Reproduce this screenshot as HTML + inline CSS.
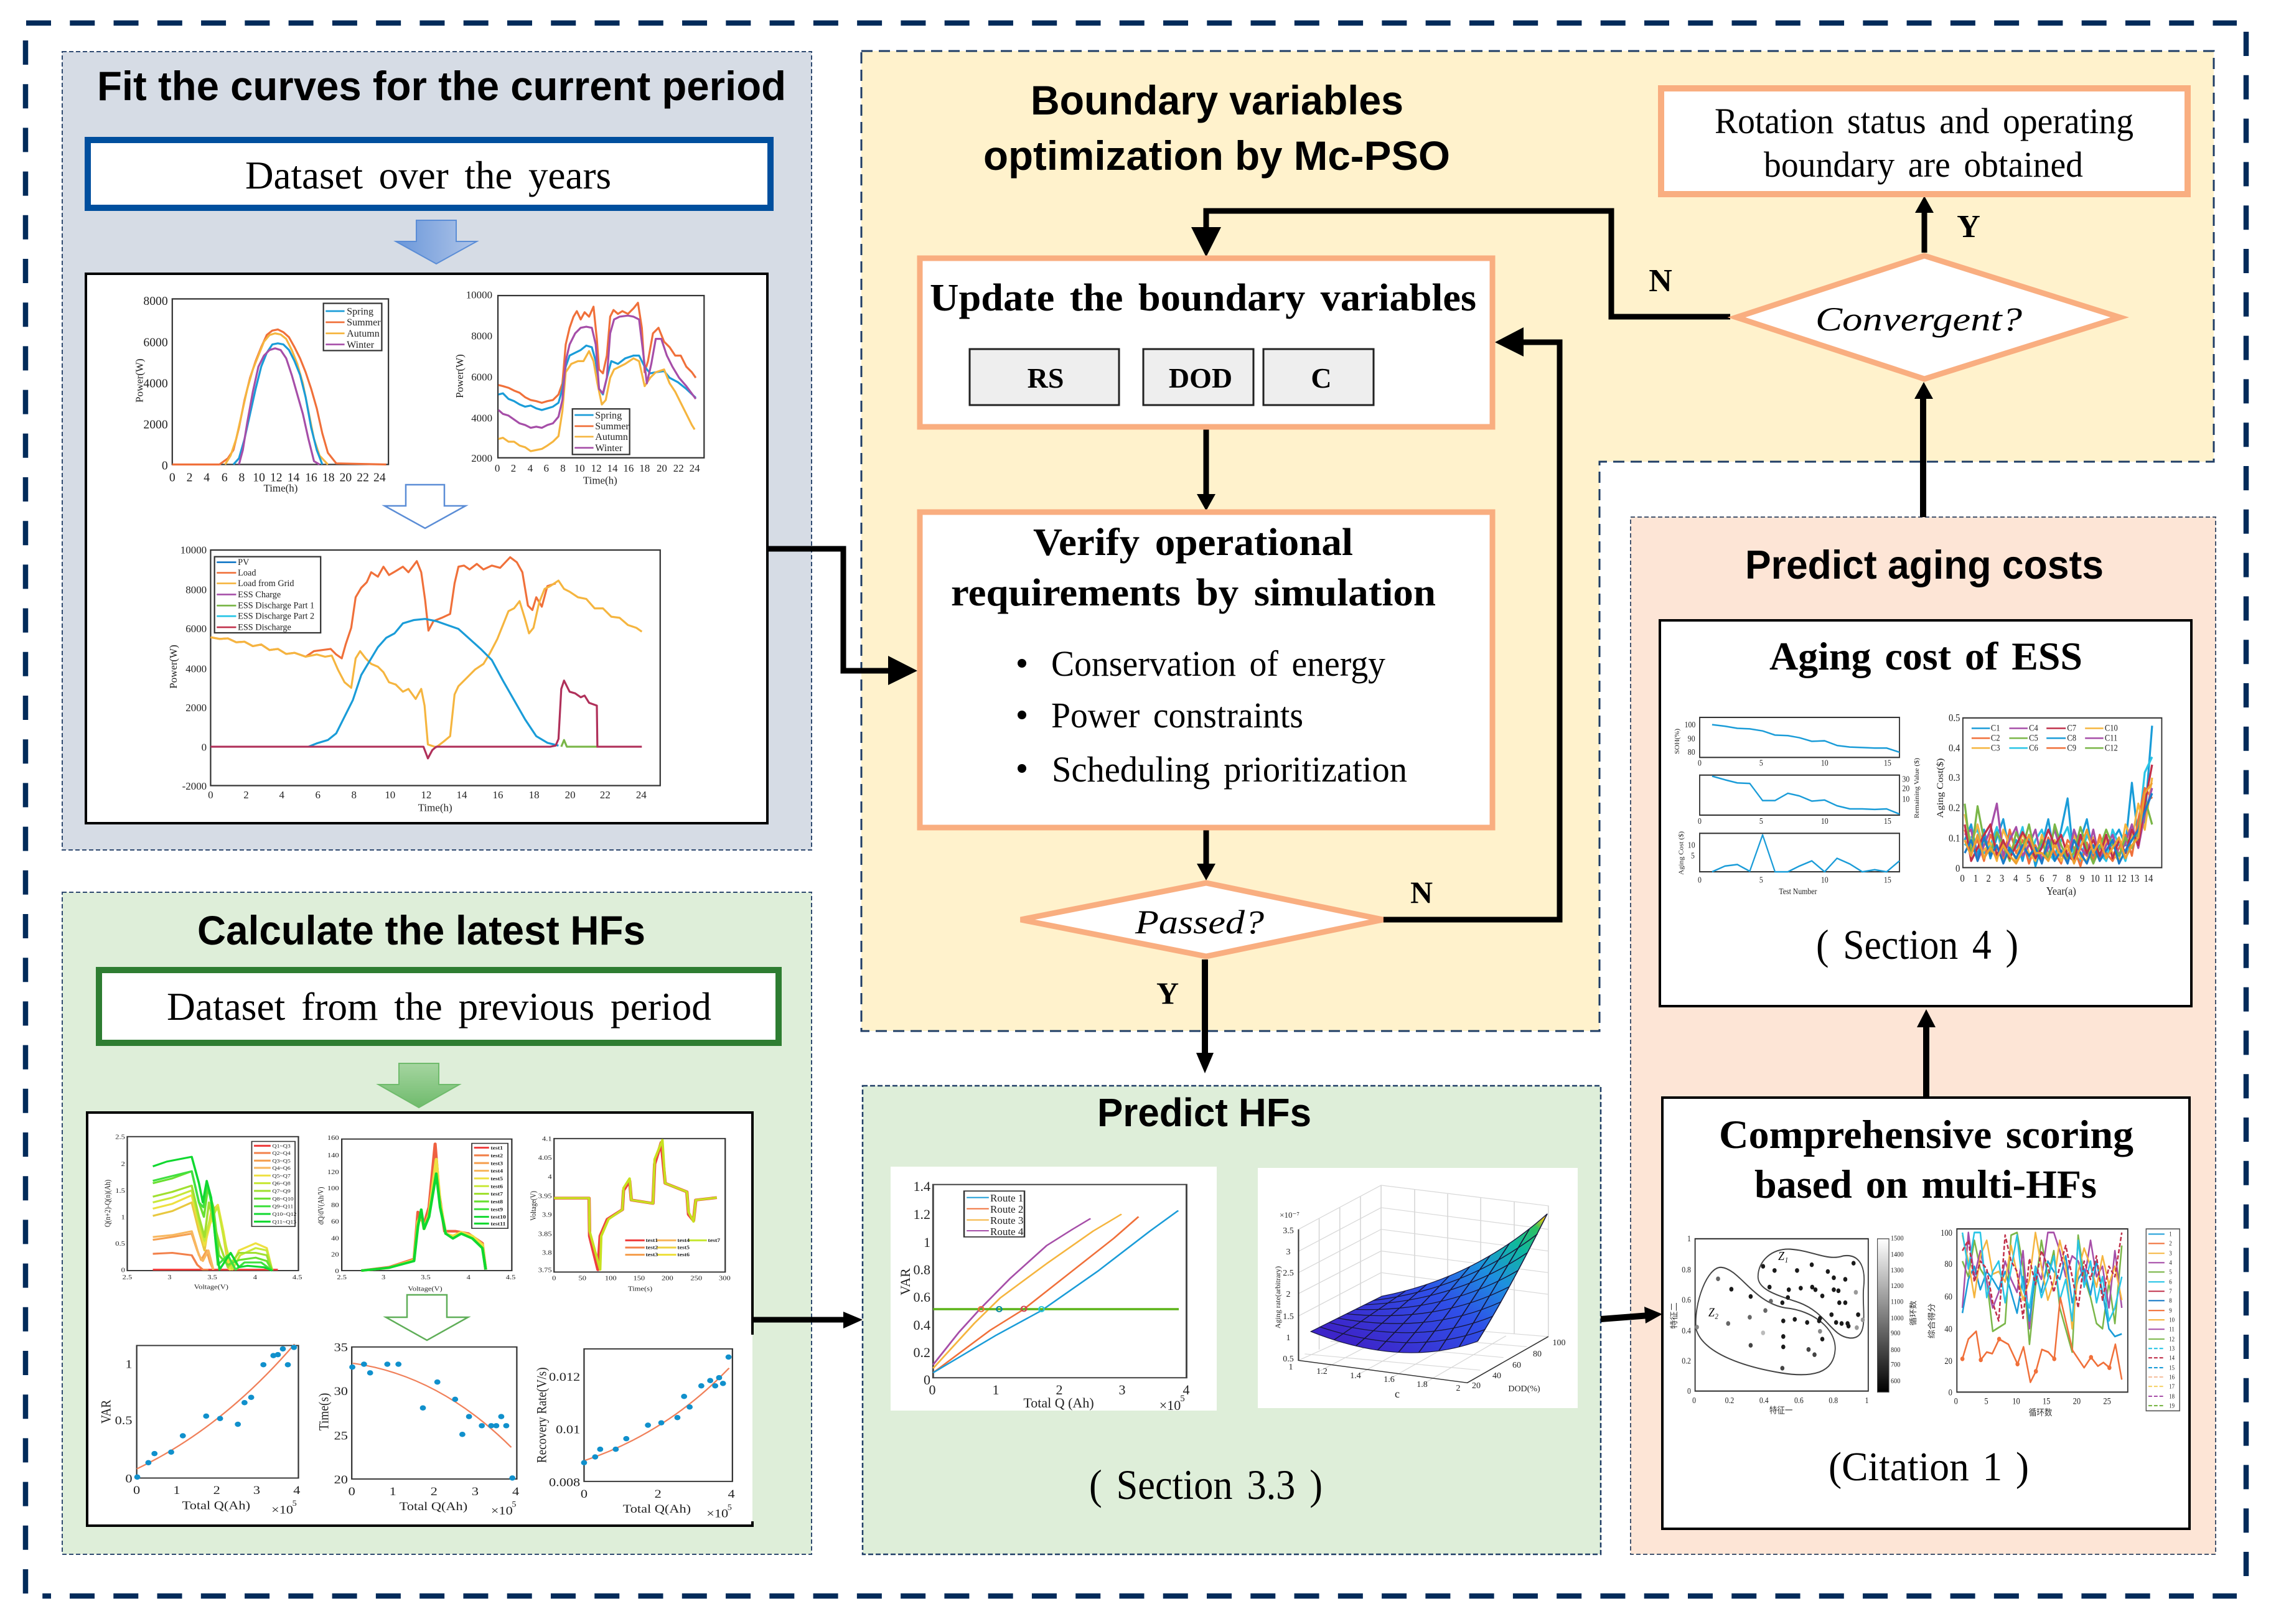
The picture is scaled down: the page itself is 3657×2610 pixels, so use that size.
<!DOCTYPE html>
<html lang="en">
<head>
<meta charset="utf-8">
<title>Boundary variables optimization flow</title>
<style>
html,body{margin:0;padding:0;background:#fff}
svg{display:block}
.h{font-family:"Liberation Sans",sans-serif;font-weight:700;fill:#000}
.s{font-family:"Liberation Serif",serif;fill:#000}
.b{font-family:"Liberation Serif",serif;font-weight:700;fill:#000}
.i{font-family:"Liberation Serif",serif;font-style:italic;fill:#000}
.t{font-family:"Liberation Serif",serif;fill:#222}
.c{font-family:"Liberation Sans","Noto Sans CJK SC",sans-serif;fill:#333}
polyline,path.l{fill:none;stroke-linejoin:round}
.ax{fill:none;stroke:#333;stroke-width:2.5}
.ln{stroke-width:3.6}
.conn{fill:none;stroke:#000;stroke-width:9}
</style>
</head>
<body>
<svg xmlns="http://www.w3.org/2000/svg" width="3657" height="2610" viewBox="0 0 3657 2610">
<defs>
<linearGradient id="ba" x1="0" x2="1" y1="0" y2="0"><stop offset="0" stop-color="#6a97da"/><stop offset="1" stop-color="#b0c5e8"/></linearGradient>
<linearGradient id="ga" x1="0" x2="0" y1="0" y2="1"><stop offset="0" stop-color="#a5d5a0"/><stop offset="1" stop-color="#6fbb6c"/></linearGradient>
<linearGradient id="cb" x1="0" x2="0" y1="0" y2="1"><stop offset="0" stop-color="#fff"/><stop offset="1" stop-color="#000"/></linearGradient>
<linearGradient id="sf" gradientUnits="userSpaceOnUse" x1="1000" y1="800" x2="1370" y2="432"><stop offset="0" stop-color="#3d25c9"/><stop offset=".4" stop-color="#2f4fe8"/><stop offset=".62" stop-color="#1e8fe0"/><stop offset=".8" stop-color="#10b8a0"/><stop offset=".92" stop-color="#30c060"/><stop offset=".97" stop-color="#e8c810"/></linearGradient>
</defs>
<rect width="3657" height="2610" fill="#fff"/>

<!-- outer dashed frame -->
<g fill="none" stroke="#022b5a" stroke-width="8.5">
<path d="M42 37H3594" stroke-dasharray="40 30.27"/>
<path d="M41 65V2565H82" stroke-dasharray="39 31.2"/>
<path d="M112 2565H3594" stroke-dasharray="40 30.27"/>
<path d="M3609 51V2549" stroke-dasharray="39 30.8"/>
</g>

<!-- panels -->
<rect x="100" y="83" width="1204" height="1283" fill="#d6dce5" stroke="#2f4a70" stroke-width="2" stroke-dasharray="7 4"/>
<rect x="100" y="1434" width="1204" height="1064" fill="#deeed9" stroke="#2f4a70" stroke-width="2" stroke-dasharray="7 4"/>
<path d="M1384 82H3557V742H2570V1657H1384Z" fill="#fff2cc" stroke="#1f3d66" stroke-width="3" stroke-dasharray="18 10"/>
<rect x="1386" y="1745" width="1186" height="753" fill="#deeed9" stroke="#1f3d66" stroke-width="2.5" stroke-dasharray="8 4"/>
<rect x="2620" y="831" width="940" height="1667" fill="#fde5d6" stroke="#45556e" stroke-width="2" stroke-dasharray="7 4"/>

<!-- panel A -->
<text class="h" x="156" y="161" font-size="66" textLength="1107" lengthAdjust="spacingAndGlyphs">Fit the curves for the current period</text>
<rect x="141" y="225" width="1097" height="109" fill="#fff" stroke="#004f9e" stroke-width="10"/>
<text class="s" x="394" y="303" font-size="64" word-spacing="10" textLength="588" lengthAdjust="spacingAndGlyphs">Dataset over the years</text>
<path d="M669 354H733V388H766L701 424L636 388H669Z" fill="url(#ba)" stroke="#5b8dd6" stroke-width="2"/>
<rect x="138" y="440" width="1095" height="883" fill="#fff" stroke="#000" stroke-width="4"/>
<path d="M652 779H714V813H748L683 849L618 813H652Z" fill="#fff" stroke="#5b8dd6" stroke-width="2.5"/>

<g transform="scale(.8929)">
<!-- chart 1 -->
<rect x="310" y="538" width="389" height="298" class="ax"/>
<g class="t" font-size="22" text-anchor="end"><text x="302" y="549">8000</text><text x="302" y="623">6000</text><text x="302" y="697">4000</text><text x="302" y="771">2000</text><text x="302" y="845">0</text></g>
<g class="t" font-size="22" text-anchor="middle"><text x="310" y="866">0</text><text x="341" y="866">2</text><text x="372" y="866">4</text><text x="404" y="866">6</text><text x="435" y="866">8</text><text x="466" y="866">10</text><text x="497" y="866">12</text><text x="528" y="866">14</text><text x="560" y="866">16</text><text x="591" y="866">18</text><text x="622" y="866">20</text><text x="653" y="866">22</text><text x="683" y="866">24</text><text x="505" y="885" font-size="19">Time(h)</text><text transform="translate(257,685) rotate(-90)" font-size="19">Power(W)</text></g>
<polyline class="ln" stroke="#f0703a" points="310,836 395,836 410,825 420,810 430,770 440,720 450,680 460,650 470,625 480,603 490,595 500,593 510,598 520,607 530,625 540,645 550,670 560,700 570,735 580,780 590,815 605,834 695,836"/>
<polyline class="ln" stroke="#f5b53f" points="405,836 415,820 425,790 435,745 445,700 455,665 465,640 475,615 485,603 495,600 505,602 515,610 525,630 535,655 545,690 555,740 565,790 575,820 590,836"/>
<polyline class="ln" stroke="#1a9cd8" points="420,836 430,825 440,790 450,745 460,700 470,660 480,635 490,620 500,618 510,620 520,630 530,650 540,675 550,715 560,770 570,810 580,836"/>
<polyline class="ln" stroke="#a64ea8" points="430,836 437,810 445,760 455,705 465,660 475,640 485,630 495,627 505,630 515,645 525,675 535,710 545,745 555,790 565,830 575,836"/>
<rect x="582" y="546" width="105" height="85" fill="#fff" stroke="#333" stroke-width="2.5"/>
<g stroke-width="3"><path d="M586 560H620" stroke="#1a9cd8"/><path d="M586 580H620" stroke="#f0703a"/><path d="M586 600H620" stroke="#f5b53f"/><path d="M586 620H620" stroke="#a64ea8"/></g>
<g class="t" font-size="18"><text x="624" y="566">Spring</text><text x="624" y="586">Summer</text><text x="624" y="606">Autumn</text><text x="624" y="626">Winter</text></g>

<!-- chart 2 -->
<rect x="896" y="532" width="371" height="292" class="ax"/>
<g class="t" font-size="19" text-anchor="end"><text x="886" y="537">10000</text><text x="886" y="611">8000</text><text x="886" y="685">6000</text><text x="886" y="759">4000</text><text x="886" y="831">2000</text></g>
<g class="t" font-size="19" text-anchor="middle"><text x="895" y="849">0</text><text x="924" y="849">2</text><text x="954" y="849">4</text><text x="983" y="849">6</text><text x="1013" y="849">8</text><text x="1043" y="849">10</text><text x="1073" y="849">12</text><text x="1102" y="849">14</text><text x="1131" y="849">16</text><text x="1160" y="849">18</text><text x="1191" y="849">20</text><text x="1221" y="849">22</text><text x="1250" y="849">24</text><text x="1080" y="871">Time(h)</text><text transform="translate(833,677) rotate(-90)">Power(W)</text></g>
<polyline class="ln" stroke="#f0703a" points="897,693 905,695 915,698 925,703 935,707 945,715 955,720 965,722 975,725 985,722 995,720 1005,710 1012,690 1018,620 1025,590 1032,570 1038,560 1045,575 1052,562 1060,570 1068,552 1074,610 1078,665 1085,672 1092,640 1098,570 1104,558 1112,565 1120,560 1130,565 1140,555 1148,545 1155,590 1160,670 1166,650 1175,600 1185,590 1195,615 1205,625 1215,640 1225,640 1235,660 1245,670 1252,680"/>
<polyline class="ln" stroke="#1a9cd8" points="897,710 905,708 915,718 925,722 935,728 945,732 955,730 965,735 975,738 985,735 995,732 1005,725 1012,700 1018,660 1025,640 1035,635 1045,630 1055,622 1065,625 1072,650 1078,700 1085,710 1092,680 1100,650 1112,655 1125,645 1140,640 1150,640 1160,660 1170,672 1180,670 1195,668 1205,680 1220,688 1235,700 1252,716"/>
<polyline class="ln" stroke="#f5b53f" points="897,790 905,788 915,795 925,795 935,802 945,805 955,812 965,810 975,808 985,802 995,795 1005,785 1012,740 1018,670 1028,655 1040,650 1050,650 1060,632 1068,650 1075,690 1083,728 1090,720 1098,680 1105,665 1115,660 1125,655 1140,645 1150,650 1160,695 1170,680 1180,670 1195,665 1205,690 1215,705 1225,725 1235,745 1245,765 1250,773"/>
<polyline class="ln" stroke="#a64ea8" points="897,738 905,745 915,748 925,755 935,762 945,765 955,770 965,768 975,770 985,765 995,762 1005,750 1012,720 1018,650 1025,620 1035,600 1045,590 1055,588 1065,590 1072,620 1078,700 1085,708 1092,680 1098,600 1105,575 1115,570 1130,568 1140,570 1150,575 1158,640 1164,690 1172,655 1180,610 1190,610 1200,640 1210,660 1222,680 1235,695 1252,718"/>
<rect x="1030" y="736" width="103" height="82" fill="#fff" stroke="#333" stroke-width="2.5"/>
<g stroke-width="3"><path d="M1034 747H1068" stroke="#1a9cd8"/><path d="M1034 767H1068" stroke="#f0703a"/><path d="M1034 786H1068" stroke="#f5b53f"/><path d="M1034 806H1068" stroke="#a64ea8"/></g>
<g class="t" font-size="18"><text x="1071" y="753">Spring</text><text x="1071" y="773">Summer</text><text x="1071" y="792">Autumn</text><text x="1071" y="812">Winter</text></g>

<!-- chart 3 -->
<rect x="379" y="990" width="809" height="424" class="ax"/>
<g class="t" font-size="19" text-anchor="end"><text x="372" y="996">10000</text><text x="372" y="1068">8000</text><text x="372" y="1138">6000</text><text x="372" y="1210">4000</text><text x="372" y="1280">2000</text><text x="372" y="1351">0</text><text x="372" y="1421">-2000</text></g>
<g class="t" font-size="19" text-anchor="middle"><text x="379" y="1437">0</text><text x="443" y="1437">2</text><text x="507" y="1437">4</text><text x="572" y="1437">6</text><text x="637" y="1437">8</text><text x="702" y="1437">10</text><text x="767" y="1437">12</text><text x="831" y="1437">14</text><text x="896" y="1437">16</text><text x="961" y="1437">18</text><text x="1026" y="1437">20</text><text x="1089" y="1437">22</text><text x="1154" y="1437">24</text><text x="783" y="1460">Time(h)</text><text transform="translate(318,1200) rotate(-90)">Power(W)</text></g>
<polyline class="ln" stroke="#f0703a" points="379,1147 395,1150 410,1149 425,1156 440,1155 455,1163 470,1160 485,1170 500,1168 515,1177 530,1175 550,1182 565,1172 580,1170 595,1168 605,1178 615,1185 622,1160 632,1130 640,1075 650,1058 660,1048 668,1030 680,1038 690,1020 700,1035 712,1028 725,1020 735,1030 750,1010 758,1030 765,1080 771,1135 780,1118 795,1112 810,1105 818,1050 825,1020 835,1018 845,1025 858,1015 870,1025 885,1018 900,1022 918,1003 930,1012 940,1030 950,1090 958,1098 965,1075 975,1092 985,1055 1000,1050"/>
<polyline class="ln" stroke="#f5b53f" points="379,1147 395,1150 410,1149 425,1156 440,1155 455,1163 470,1160 485,1170 500,1168 515,1177 530,1175 550,1182 570,1178 585,1182 597,1180 608,1205 620,1228 632,1238 640,1185 648,1172 658,1185 668,1195 680,1200 690,1210 700,1228 712,1232 725,1245 735,1240 748,1258 758,1240 764,1270 770,1340 785,1345 798,1335 810,1325 818,1250 825,1235 840,1220 855,1205 870,1195 882,1175 895,1150 905,1125 915,1100 925,1095 935,1082 945,1115 952,1140 960,1130 970,1085 980,1060 990,1055 1005,1045 1015,1060 1025,1065 1040,1075 1055,1078 1070,1095 1085,1095 1100,1110 1115,1112 1130,1125 1145,1130 1155,1137"/>
<polyline class="ln" stroke="#1a9cd8" points="555,1344 570,1338 590,1332 605,1320 620,1290 635,1260 650,1215 665,1190 680,1165 695,1148 710,1140 725,1122 745,1116 765,1114 785,1118 805,1125 825,1132 845,1150 865,1168 885,1188 905,1225 925,1260 945,1295 965,1325 985,1337 1005,1342"/>
<polyline class="ln" stroke="#7ab648" points="1010,1344 1015,1332 1020,1344 1075,1344"/>
<polyline class="ln" stroke="#b0305a" points="379,1344 762,1344 770,1365 778,1350 785,1344 990,1344 1000,1342 1005,1330 1010,1240 1015,1225 1025,1245 1035,1248 1045,1255 1052,1252 1060,1265 1074,1270 1075,1344 1155,1344"/>
<rect x="386" y="1002" width="191" height="137" fill="#fff" stroke="#333" stroke-width="2.5"/>
<g stroke-width="3"><path d="M390 1012H425" stroke="#1a7cc8"/><path d="M390 1031H425" stroke="#f0703a"/><path d="M390 1050H425" stroke="#f5b53f"/><path d="M390 1070H425" stroke="#a64ea8"/><path d="M390 1090H425" stroke="#7ab648"/><path d="M390 1109H425" stroke="#29c5e6"/><path d="M390 1129H425" stroke="#c0304a"/></g>
<g class="t" font-size="16"><text x="428" y="1017">PV</text><text x="428" y="1036">Load</text><text x="428" y="1055">Load from Grid</text><text x="428" y="1075">ESS Charge</text><text x="428" y="1095">ESS Discharge Part 1</text><text x="428" y="1114">ESS Discharge Part 2</text><text x="428" y="1134">ESS Discharge</text></g>
</g>

<!-- panel B -->
<text class="h" x="317" y="1518" font-size="66" textLength="720" lengthAdjust="spacingAndGlyphs">Calculate the latest HFs</text>
<rect x="159" y="1559" width="1092" height="117" fill="#fff" stroke="#2e7d32" stroke-width="10"/>
<text class="s" x="268" y="1639" font-size="64" word-spacing="10" textLength="875" lengthAdjust="spacingAndGlyphs">Dataset from the previous period</text>
<path d="M641 1709H705V1743H738L673 1780L608 1743H641Z" fill="url(#ga)" stroke="#6fbb6c" stroke-width="2"/>
<rect x="140" y="1788" width="1069" height="664" fill="#fff"/>
<path d="M1209 2145V1788H140V2452H1209V2445" fill="none" stroke="#000" stroke-width="4"/>
<path d="M654 2081H718V2117H752L686 2154L620 2117H654Z" fill="#fff" stroke="#5fae58" stroke-width="2.5"/>

<g transform="translate(0,1400) scale(.8929,.7717)">
<!-- c1 -->
<rect x="229" y="553" width="308" height="279" class="ax"/>
<g stroke-width="4">
<polyline stroke="#ef4040" points="275,830 500,830"/>
<polyline stroke="#f2804a" points="275,797 310,795 345,800 355,820 365,830 375,830"/>
<polyline stroke="#f5a050" points="275,768 310,762 345,755 355,790 362,810 372,790 378,815 384,830"/>
<polyline stroke="#f8b860" points="275,762 310,758 345,750 358,800 365,812 375,790 384,830"/>
<polyline stroke="#e8c840" points="275,718 310,708 345,690 358,750 368,790 375,740 380,710 392,695 402,760 412,830"/>
<polyline stroke="#eee040" points="275,703 310,693 345,675 358,735 368,780 378,735 392,695 402,750 414,830 430,790 460,775 480,785 490,832"/>
<polyline stroke="#c8e838" points="275,690 310,680 345,665 358,730 368,770 378,725 392,700 404,770 418,830 432,800 460,785 480,790 490,832"/>
<polyline stroke="#a0e030" points="275,678 310,668 345,655 358,720 368,762 376,690 384,730 396,780 410,825 430,795 460,795 480,800 490,832"/>
<polyline stroke="#68e030" points="275,650 310,640 345,625 358,690 367,720 374,660 384,700 394,800 410,820 430,810 460,805 480,812 490,832"/>
<polyline stroke="#40e040" points="275,645 310,635 345,625 358,690 366,700 373,650 382,700 392,820 410,800 424,830 440,815 470,815 490,832"/>
<polyline stroke="#10d830" points="275,615 300,605 345,595 358,650 365,690 372,645 380,680 388,770 395,830 415,795 430,825 445,822 475,825 490,832"/>
</g>
<rect x="453" y="563" width="78" height="177" fill="#fff" stroke="#333" stroke-width="2"/>
<g stroke-width="4"><path d="M457 572H487" stroke="#ef4040"/><path d="M457 587H487" stroke="#f2804a"/><path d="M457 603H487" stroke="#f5a050"/><path d="M457 618H487" stroke="#f8b860"/><path d="M457 634H487" stroke="#eee040"/><path d="M457 650H487" stroke="#c8e838"/><path d="M457 666H487" stroke="#a0e030"/><path d="M457 682H487" stroke="#68e030"/><path d="M457 698H487" stroke="#40e040"/><path d="M457 714H487" stroke="#10d830"/><path d="M457 730H487" stroke="#10d830"/></g>
<g class="t" font-size="11"><text x="490" y="576">Q1~Q3</text><text x="490" y="591">Q2~Q4</text><text x="490" y="607">Q3~Q5</text><text x="490" y="622">Q4~Q6</text><text x="490" y="638">Q5~Q7</text><text x="490" y="654">Q6~Q8</text><text x="490" y="670">Q7~Q9</text><text x="490" y="686">Q8~Q10</text><text x="490" y="702">Q9~Q11</text><text x="490" y="718">Q10~Q12</text><text x="490" y="734">Q11~Q13</text></g>
<g class="t" font-size="14" text-anchor="end"><text x="225" y="558">2.5</text><text x="225" y="614">2</text><text x="225" y="670">1.5</text><text x="225" y="725">1</text><text x="225" y="780">0.5</text><text x="225" y="835">0</text></g>
<g class="t" font-size="14" text-anchor="middle"><text x="229" y="850">2.5</text><text x="305" y="850">3</text><text x="382" y="850">3.5</text><text x="459" y="850">4</text><text x="535" y="850">4.5</text><text x="380" y="870">Voltage(V)</text><text transform="translate(198,692) rotate(-90)">Q(n+2)-Q(n)(Ah)</text></g>
<!-- c2 -->
<rect x="615" y="558" width="306" height="274" class="ax"/>
<polyline stroke="#ef6040" stroke-width="5.5" points="650,832 700,825 745,808 752,710 758,725 763,735 772,700 783,568 790,670 800,750 820,750 843,755 868,775 874,830"/>
<polyline stroke="#eee040" stroke-width="5.5" points="650,832 700,826 745,810 752,730 758,715 763,745 772,715 785,600 792,690 802,755 815,760 830,752 850,760 868,778 874,830"/>
<polyline stroke="#10d830" stroke-width="5" points="650,832 700,826 745,812 752,740 758,705 763,745 772,720 785,630 792,700 802,755 815,765 830,755 850,765 868,785 874,830"/>
<rect x="849" y="567" width="65" height="177" fill="#fff" stroke="#333" stroke-width="2"/>
<g stroke-width="4"><path d="M853 576H880" stroke="#ef4040"/><path d="M853 592H880" stroke="#f2804a"/><path d="M853 608H880" stroke="#f5a050"/><path d="M853 624H880" stroke="#f8b860"/><path d="M853 640H880" stroke="#eee040"/><path d="M853 656H880" stroke="#c8e838"/><path d="M853 672H880" stroke="#a0e030"/><path d="M853 688H880" stroke="#68e030"/><path d="M853 704H880" stroke="#40e040"/><path d="M853 720H880" stroke="#10d830"/><path d="M853 734H880" stroke="#10d830"/></g>
<g class="t" font-size="11" font-weight="700"><text x="883" y="580">test1</text><text x="883" y="596">test2</text><text x="883" y="612">test3</text><text x="883" y="628">test4</text><text x="883" y="644">test5</text><text x="883" y="660">test6</text><text x="883" y="676">test7</text><text x="883" y="692">test8</text><text x="883" y="708">test9</text><text x="883" y="724">test10</text><text x="883" y="738">test11</text></g>
<g class="t" font-size="14" text-anchor="end"><text x="610" y="560">160</text><text x="610" y="596">140</text><text x="610" y="631">120</text><text x="610" y="665">100</text><text x="610" y="700">80</text><text x="610" y="734">60</text><text x="610" y="769">40</text><text x="610" y="803">20</text><text x="610" y="837">0</text></g>
<g class="t" font-size="14" text-anchor="middle"><text x="615" y="850">2.5</text><text x="690" y="850">3</text><text x="766" y="850">3.5</text><text x="843" y="850">4</text><text x="919" y="850">4.5</text><text x="765" y="874">Voltage(V)</text><text transform="translate(582,697) rotate(-90)">dQ/dV(Ah/V)</text></g>
<!-- c3 -->
<rect x="997" y="557" width="308" height="278" class="ax"/>
<polyline stroke="#ef4040" stroke-width="6" points="997,681 1060,681 1061,760 1076,830 1080,760 1093,725 1120,705 1122,665 1133,645 1136,685 1175,692 1178,610 1190,565 1197,650 1236,668 1239,715 1248,728 1252,685 1290,680"/>
<polyline stroke="#c8e020" stroke-width="4.5" points="997,681 1060,681 1061,750 1080,830 1082,760 1095,725 1120,705 1122,660 1133,640 1136,685 1175,692 1178,600 1192,560 1197,650 1236,668 1239,710 1248,730 1252,685 1290,680"/>
<g stroke-width="4"><path d="M1125 769H1160" stroke="#ef4040"/><path d="M1125 784H1160" stroke="#f2804a"/><path d="M1125 799H1160" stroke="#f5a050"/><path d="M1182 769H1217" stroke="#f8b860"/><path d="M1182 784H1217" stroke="#eed040"/><path d="M1182 799H1217" stroke="#eee040"/><path d="M1238 769H1272" stroke="#c8e838"/></g>
<g class="t" font-size="11" font-weight="700"><text x="1162" y="772">test1</text><text x="1162" y="787">test2</text><text x="1162" y="802">test3</text><text x="1219" y="772">test4</text><text x="1219" y="787">test5</text><text x="1219" y="802">test6</text><text x="1274" y="772">test7</text></g>
<g class="t" font-size="14" text-anchor="end"><text x="993" y="562">4.1</text><text x="993" y="601">4.05</text><text x="993" y="641">4</text><text x="993" y="681">3.95</text><text x="993" y="720">3.9</text><text x="993" y="760">3.85</text><text x="993" y="799">3.8</text><text x="993" y="835">3.75</text></g>
<g class="t" font-size="14" text-anchor="middle"><text x="997" y="852">0</text><text x="1048" y="852">50</text><text x="1099" y="852">100</text><text x="1150" y="852">150</text><text x="1201" y="852">200</text><text x="1253" y="852">250</text><text x="1304" y="852">300</text><text x="1152" y="874">Time(s)</text><text transform="translate(964,697) rotate(-90)">Voltage(V)</text></g>
<!-- c4 -->
<rect x="246" y="988" width="291" height="276" class="ax"/>
<path d="M246 1245Q400 1160 530 985" fill="none" stroke="#f0805a" stroke-width="2.8"/>
<g fill="#1090cc"><circle cx="247" cy="1262" r="5.5"/><circle cx="267" cy="1232" r="5.5"/><circle cx="278" cy="1213" r="5.5"/><circle cx="308" cy="1210" r="5.5"/><circle cx="329" cy="1176" r="5.5"/><circle cx="371" cy="1135" r="5.5"/><circle cx="396" cy="1140" r="5.5"/><circle cx="428" cy="1152" r="5.5"/><circle cx="440" cy="1107" r="5.5"/><circle cx="452" cy="1096" r="5.5"/><circle cx="474" cy="1028" r="5.5"/><circle cx="492" cy="1009" r="5.5"/><circle cx="500" cy="1007" r="5.5"/><circle cx="509" cy="995" r="5.5"/><circle cx="518" cy="1028" r="5.5"/><circle cx="529" cy="992" r="5.5"/></g>
<g class="t" font-size="25" text-anchor="end"><text x="238" y="1035">1</text><text x="238" y="1152">0.5</text><text x="238" y="1273">0</text></g>
<g class="t" font-size="25" text-anchor="middle"><text x="246" y="1297">0</text><text x="318" y="1297">1</text><text x="390" y="1297">2</text><text x="462" y="1297">3</text><text x="534" y="1297">4</text><text x="389" y="1329">Total Q(Ah)</text><text transform="translate(199,1126) rotate(-90)">VAR</text><text x="508" y="1338">×10</text><text x="530" y="1322" font-size="16">5</text></g>
<!-- c5 -->
<rect x="633" y="991" width="297" height="275" class="ax"/>
<path d="M635 1025Q790 1050 920 1200" fill="none" stroke="#f0805a" stroke-width="2.8"/>
<g fill="#1090cc"><circle cx="634" cy="1033" r="5.5"/><circle cx="655" cy="1027" r="5.5"/><circle cx="666" cy="1045" r="5.5"/><circle cx="697" cy="1027" r="5.5"/><circle cx="717" cy="1027" r="5.5"/><circle cx="761" cy="1118" r="5.5"/><circle cx="787" cy="1064" r="5.5"/><circle cx="819" cy="1100" r="5.5"/><circle cx="832" cy="1173" r="5.5"/><circle cx="844" cy="1136" r="5.5"/><circle cx="867" cy="1155" r="5.5"/><circle cx="884" cy="1155" r="5.5"/><circle cx="893" cy="1155" r="5.5"/><circle cx="902" cy="1136" r="5.5"/><circle cx="911" cy="1155" r="5.5"/><circle cx="922" cy="1264" r="5.5"/></g>
<g class="t" font-size="25" text-anchor="end"><text x="626" y="1000">35</text><text x="626" y="1091">30</text><text x="626" y="1184">25</text><text x="626" y="1275">20</text></g>
<g class="t" font-size="25" text-anchor="middle"><text x="633" y="1300">0</text><text x="707" y="1300">1</text><text x="781" y="1300">2</text><text x="855" y="1300">3</text><text x="928" y="1300">4</text><text x="780" y="1331">Total Q(Ah)</text><text transform="translate(591,1126) rotate(-90)">Time(s)</text><text x="903" y="1340">×10</text><text x="925" y="1324" font-size="16">5</text></g>
<!-- c6 -->
<rect x="1051" y="995" width="267" height="276" class="ax"/>
<path d="M1051 1228Q1200 1170 1312 1035" fill="none" stroke="#f0805a" stroke-width="2.8"/>
<g fill="#1090cc"><circle cx="1051" cy="1232" r="5.5"/><circle cx="1071" cy="1220" r="5.5"/><circle cx="1080" cy="1204" r="5.5"/><circle cx="1108" cy="1204" r="5.5"/><circle cx="1127" cy="1182" r="5.5"/><circle cx="1166" cy="1154" r="5.5"/><circle cx="1190" cy="1149" r="5.5"/><circle cx="1219" cy="1138" r="5.5"/><circle cx="1231" cy="1094" r="5.5"/><circle cx="1241" cy="1116" r="5.5"/><circle cx="1262" cy="1072" r="5.5"/><circle cx="1278" cy="1061" r="5.5"/><circle cx="1287" cy="1072" r="5.5"/><circle cx="1294" cy="1055" r="5.5"/><circle cx="1301" cy="1067" r="5.5"/><circle cx="1311" cy="1012" r="5.5"/></g>
<g class="t" font-size="25" text-anchor="end"><text x="1044" y="1061">0.012</text><text x="1044" y="1171">0.01</text><text x="1044" y="1281">0.008</text></g>
<g class="t" font-size="25" text-anchor="middle"><text x="1051" y="1305">0</text><text x="1184" y="1305">2</text><text x="1316" y="1305">4</text><text x="1182" y="1336">Total Q(Ah)</text><text transform="translate(983,1133) rotate(-90)">Recovery Rate(V/s)</text><text x="1291" y="1346">×10</text><text x="1313" y="1330" font-size="16">5</text></g>
</g>

<!-- panel C -->
<text class="h" x="1656" y="184" font-size="66" textLength="599" lengthAdjust="spacingAndGlyphs">Boundary variables</text>
<text class="h" x="1580" y="273" font-size="66" textLength="750" lengthAdjust="spacingAndGlyphs">optimization by Mc-PSO</text>

<!-- connectors -->
<g class="conn">
<path d="M1233 882H1355V1078H1440"/>
<path d="M2780 509H2589V339H1938V370"/>
<path d="M1938 690V800"/>
<path d="M1938 1334V1395"/>
<path d="M2220 1478H2506V550H2440"/>
<path d="M1936 1542V1700" stroke-width="10"/>
<path d="M3092 406V335"/>
<path d="M3090 831V635" stroke-width="10"/>
<path d="M3095 1764V1645" stroke-width="10"/>
<path d="M1209 2121H1360"/>
<path d="M2572 2120L2650 2114" stroke-width="10"/>
</g>
<g fill="#000">
<path d="M1474 1078L1427 1054V1101Z"/>
<path d="M1938 413L1914 365H1962Z"/>
<path d="M1938 821L1923 794H1953Z"/>
<path d="M1938 1415L1923 1388H1953Z"/>
<path d="M2402 550L2448 526V573Z"/>
<path d="M1936 1725L1922 1692H1950Z"/>
<path d="M3092 315L3077 342H3107Z"/>
<path d="M3091 614L3076 641H3106Z"/>
<path d="M3095 1622L3080 1651H3110Z"/>
<path d="M1386 2121L1355 2108V2135Z"/>
<path d="M2671 2112L2642 2100L2644 2127Z"/>
</g>

<!-- boxes -->
<rect x="1478" y="415" width="920" height="271" fill="#fff" stroke="#f9ae80" stroke-width="9"/>
<text class="b" x="1494" y="499" font-size="62" word-spacing="8" textLength="878" lengthAdjust="spacingAndGlyphs">Update the boundary variables</text>
<g fill="#eee" stroke="#222" stroke-width="3"><rect x="1558" y="561" width="240" height="90"/><rect x="1837" y="561" width="177" height="90"/><rect x="2030" y="561" width="177" height="90"/></g>
<g class="b" font-size="46" text-anchor="middle"><text x="1680" y="623">RS</text><text x="1929" y="623">DOD</text><text x="2123" y="623">C</text></g>

<rect x="1478" y="823" width="920" height="507" fill="#fff" stroke="#f9ae80" stroke-width="9"/>
<text class="b" x="1660" y="892" font-size="62" word-spacing="8" textLength="514" lengthAdjust="spacingAndGlyphs">Verify operational</text>
<text class="b" x="1528" y="973" font-size="62" word-spacing="8" textLength="779" lengthAdjust="spacingAndGlyphs">requirements by simulation</text>
<g fill="#000"><circle cx="1642" cy="1066" r="7"/><circle cx="1642" cy="1149" r="7"/><circle cx="1642" cy="1235" r="7"/></g>
<text class="s" x="1689" y="1086" font-size="58" word-spacing="8" textLength="537" lengthAdjust="spacingAndGlyphs">Conservation of energy</text>
<text class="s" x="1689" y="1169" font-size="58" word-spacing="8" textLength="405" lengthAdjust="spacingAndGlyphs">Power constraints</text>
<text class="s" x="1690" y="1256" font-size="58" word-spacing="8" textLength="571" lengthAdjust="spacingAndGlyphs">Scheduling prioritization</text>

<path d="M1640 1478L1938 1419L2222 1478L1938 1537Z" fill="#fff" stroke="#f9ae80" stroke-width="9"/>
<text class="i" x="1824" y="1500" font-size="54" word-spacing="4" textLength="207" lengthAdjust="spacingAndGlyphs">Passed?</text>
<text class="b" x="2284" y="1451" font-size="50" text-anchor="middle">N</text>
<text class="b" x="1876" y="1613" font-size="50" text-anchor="middle">Y</text>

<rect x="2669" y="142" width="846" height="170" fill="#fff" stroke="#f9ae80" stroke-width="10"/>
<text class="s" x="2755" y="214" font-size="58" word-spacing="8" textLength="673" lengthAdjust="spacingAndGlyphs">Rotation status and operating</text>
<text class="s" x="2834" y="284" font-size="58" word-spacing="8" textLength="513" lengthAdjust="spacingAndGlyphs">boundary are obtained</text>

<path d="M2790 510L3092 411L3406 510L3092 609Z" fill="#fff" stroke="#f9ae80" stroke-width="9"/>
<text class="i" x="2917" y="531" font-size="54" textLength="332" lengthAdjust="spacingAndGlyphs">Convergent?</text>
<text class="b" x="3163" y="381" font-size="52" text-anchor="middle">Y</text>
<text class="b" x="2668" y="468" font-size="52" text-anchor="middle">N</text>

<!-- panel E -->
<text class="h" x="1763" y="1810" font-size="64" textLength="344" lengthAdjust="spacingAndGlyphs">Predict HFs</text>
<text class="s" x="1750" y="2409" font-size="68" word-spacing="8" textLength="375" lengthAdjust="spacingAndGlyphs">( Section 3.3 )</text>
<rect x="1431" y="1875" width="524" height="392" fill="#fff"/>
<rect x="2021" y="1877" width="514" height="386" fill="#fff"/>

<g transform="translate(1350,1700) scale(.8293,.5804)">
<rect x="180" y="351" width="491" height="535" fill="none" stroke="#444" stroke-width="3.5"/>
<polyline stroke="#a64ea8" stroke-width="3.8" points="180,850 230,760 270,697 330,610 400,520 450,475 485,445"/>
<polyline stroke="#f5b53f" stroke-width="3.8" points="180,860 260,735 310,665 400,570 490,480 545,433"/>
<polyline stroke="#f0703a" stroke-width="3.8" points="180,872 290,755 355,697 450,590 530,500 578,440"/>
<polyline stroke="#1a9cd8" stroke-width="3.8" points="180,872 300,770 390,700 500,590 600,480 655,423"/>
<path d="M180 696H656" stroke="#5bb318" stroke-width="6"/>
<g fill="none" stroke-width="3"><ellipse cx="273" cy="696" rx="5" ry="7" stroke="#f0703a"/><ellipse cx="308" cy="696" rx="5" ry="7" stroke="#0a8a9a"/><ellipse cx="356" cy="695" rx="5" ry="7" stroke="#d04050"/><ellipse cx="390" cy="696" rx="5" ry="7" stroke="#29c5d6"/></g>
<rect x="240" y="369" width="117" height="127" fill="#fff" stroke="#333" stroke-width="3"/>
<g stroke-width="3.5"><path d="M245 387H288" stroke="#1a9cd8"/><path d="M245 418H288" stroke="#f0703a"/><path d="M245 449H288" stroke="#f5b53f"/><path d="M245 479H288" stroke="#a64ea8"/></g>
<!-- surface walls -->
<g fill="none" stroke="#d8d8d8" stroke-width="2">
<path d="M888 475L1048 353L1372 410V772L1048 735V353M888 838L1048 735M888 475V838"/>
<path d="M928 445V808M968 415V775M1008 384V750M1113 365V742M1177 377V750M1241 388V757M1306 398V765"/>
<path d="M888 536L1048 415L1372 475M888 595L1048 475L1372 535M888 653L1048 535L1372 595M888 715L1048 595L1372 655"/>
<path d="M928 868L1080 755M1000 880L1150 762M1063 890L1215 768M1127 905L1290 770M1240 865L900 820M1285 830L950 785M1330 800L1000 760"/>
</g>
<path d="M888 475V838L1215 900L1372 772" fill="none" stroke="#333" stroke-width="2.5"/>
<path d="M912 758Q1090 860 1235 785Q1290 660 1370 432Q1230 610 1050 660Z" fill="url(#sf)" stroke="#1a1a40" stroke-width="2"/>
<g fill="none" stroke="#16163a" stroke-width="2.2">
<path d="M957 781L1095 646M999 798L1137 627M1041 810L1180 604M1082 815L1220 578M1121 816L1259 548M1160 811L1297 513M1199 801L1335 475"/>
<path d="M929 745Q1107 829 1250 752M947 733Q1125 797 1264 716M964 721Q1142 766 1280 676M981 709Q1160 735 1296 634M1000 697Q1177 704 1313 589M1016 684Q1195 672 1331 540M1033 672Q1212 641 1351 488"/>
</g>
</g>
<g class="t" font-size="22" text-anchor="end"><text x="1495" y="1914">1.4</text><text x="1495" y="1959">1.2</text><text x="1495" y="2004">1</text><text x="1495" y="2048">0.8</text><text x="1495" y="2092">0.6</text><text x="1495" y="2137">0.4</text><text x="1495" y="2181">0.2</text><text x="1495" y="2225">0</text></g>
<g class="t" font-size="22" text-anchor="middle"><text x="1498" y="2241">0</text><text x="1600" y="2241">1</text><text x="1702" y="2241">2</text><text x="1803" y="2241">3</text><text x="1906" y="2241">4</text><text x="1701" y="2262" font-size="22">Total Q (Ah)</text><text transform="translate(1462,2060) rotate(-90)">VAR</text><text x="1880" y="2266" font-size="22">×10</text><text x="1900" y="2252" font-size="15">5</text></g>
<g class="t" font-size="17"><text x="1591" y="1931">Route 1</text><text x="1591" y="1949">Route 2</text><text x="1591" y="1967">Route 3</text><text x="1591" y="1985">Route 4</text></g>
<g class="t" font-size="14" text-anchor="middle">
<text x="2070" y="1982">3.5</text><text x="2070" y="2016">3</text><text x="2070" y="2050">2.5</text><text x="2070" y="2084">2</text><text x="2070" y="2120">1.5</text><text x="2070" y="2154">1</text><text x="2070" y="2188">0.5</text>
<text x="2074" y="2201">1</text><text x="2124" y="2208">1.2</text><text x="2178" y="2215">1.4</text><text x="2232" y="2221">1.6</text><text x="2285" y="2229">1.8</text><text x="2343" y="2235">2</text><text x="2245" y="2246" font-size="18">c</text>
<text x="2372" y="2231">20</text><text x="2405" y="2215">40</text><text x="2437" y="2198">60</text><text x="2470" y="2180">80</text><text x="2505" y="2162">100</text><text x="2449" y="2236">DOD(%)</text>
<text x="2072" y="1957" font-size="13">×10⁻⁷</text><text transform="translate(2057,2085) rotate(-90)" font-size="12">Aging rate(arbitrary)</text></g>

<!-- panel D -->
<text class="h" x="2804" y="930" font-size="65" textLength="576" lengthAdjust="spacingAndGlyphs">Predict aging costs</text>
<rect x="2667" y="997" width="854" height="620" fill="#fff" stroke="#000" stroke-width="4"/>
<text class="b" x="2843" y="1076" font-size="64" word-spacing="6" textLength="503" lengthAdjust="spacingAndGlyphs">Aging cost of ESS</text>
<text class="s" x="2918" y="1541" font-size="68" word-spacing="8" textLength="325" lengthAdjust="spacingAndGlyphs">( Section 4 )</text>
<rect x="2671" y="1764" width="847" height="693" fill="#fff" stroke="#000" stroke-width="4"/>
<text class="b" x="2762" y="1845" font-size="65" word-spacing="6" textLength="666" lengthAdjust="spacingAndGlyphs">Comprehensive scoring</text>
<text class="b" x="2819" y="1925" font-size="65" word-spacing="6" textLength="550" lengthAdjust="spacingAndGlyphs">based on multi-HFs</text>
<text class="s" x="2938" y="2379" font-size="66" word-spacing="6" textLength="322" lengthAdjust="spacingAndGlyphs">(Citation 1 )</text>

<g transform="translate(2500,1300) scale(.738,.8354)">
<!-- aging subplots -->
<g class="ax" stroke-width="2"><rect x="313" y="-176" width="435" height="77"/><rect x="313" y="-65" width="435" height="77"/><rect x="313" y="47" width="435" height="74"/></g>
<polyline stroke="#1a9cd8" stroke-width="3" points="340,-162 368,-159 395,-155 422,-154 450,-150 477,-142 505,-141 530,-137 557,-130 585,-131 612,-122 640,-119 667,-118 694,-117 720,-117 748,-109"/>
<polyline stroke="#1a9cd8" stroke-width="3" points="340,-63 368,-56 395,-50 422,-49 450,-16 477,-16 505,-30 530,-25 557,-15 585,-17 612,-6 640,0 667,0 694,1 720,0 748,10"/>
<polyline stroke="#1a9cd8" stroke-width="3" points="340,121 368,110 395,107 422,120 450,50 477,121 505,121 530,110 557,100 585,121 612,95 640,106 667,121 694,117 720,121 748,100"/>
<g class="t" font-size="16" text-anchor="middle">
<text x="292" y="-157">100</text><text x="295" y="-130">90</text><text x="295" y="-104">80</text>
<text x="313" y="-83">0</text><text x="447" y="-83">5</text><text x="585" y="-83">10</text><text x="722" y="-83">15</text>
<text x="313" y="29">0</text><text x="447" y="29">5</text><text x="585" y="29">10</text><text x="722" y="29">15</text>
<text x="313" y="142">0</text><text x="447" y="142">5</text><text x="585" y="142">10</text><text x="722" y="142">15</text>
<text x="295" y="75">10</text><text x="298" y="95">5</text>
<text x="762" y="-52">30</text><text x="762" y="-34">20</text><text x="762" y="-14">10</text>
<text x="527" y="164">Test Number</text>
<text transform="translate(268,-130) rotate(-90)" font-size="14">SOH(%)</text>
<text transform="translate(277,85) rotate(-90)" font-size="14">Aging Cost ($)</text>
<text transform="translate(790,-40) rotate(-90)" font-size="14">Remaining Value ($)</text>
</g>
<rect x="886" y="-175" width="433" height="288" class="ax" stroke-width="2"/>
<g stroke-width="4.4">
<polyline stroke="#1a9cd8" points="890,60 904,30 918,90 932,40 946,95 960,55 974,20 988,85 1002,60 1016,100 1030,50 1044,110 1058,70 1072,20 1086,95 1100,40 1114,-20 1128,100 1142,60 1156,20 1170,90 1184,70 1198,100 1212,60 1226,40 1240,70 1254,-50 1268,60 1282,20 1298,-160"/>
<polyline stroke="#29c5e6" points="890,70 904,55 918,40 932,85 946,70 960,35 974,100 988,50 1002,75 1016,35 1030,100 1044,60 1058,40 1072,85 1086,100 1100,60 1114,35 1128,90 1142,100 1156,50 1170,75 1184,85 1198,100 1212,40 1226,70 1240,100 1254,50 1268,45 1282,-70 1298,-100"/>
<polyline stroke="#f0703a" points="890,40 904,80 918,60 932,100 946,50 960,75 974,95 988,40 1002,85 1016,60 1030,105 1044,70 1058,100 1072,55 1086,85 1100,105 1114,60 1128,75 1142,110 1156,65 1170,100 1184,50 1198,85 1212,100 1226,75 1240,50 1254,90 1268,20 1282,-40 1298,-20"/>
<polyline stroke="#f5b53f" points="890,10 904,70 918,30 932,80 946,65 960,100 974,40 988,70 1002,100 1016,45 1030,85 1044,100 1058,50 1072,90 1086,60 1100,100 1114,80 1128,50 1142,95 1156,100 1170,55 1184,95 1198,60 1212,85 1226,100 1240,30 1254,60 1268,-10 1282,40 1298,-60"/>
<polyline stroke="#a64ea8" points="890,50 904,40 918,100 932,70 946,40 960,-10 974,90 988,60 1002,35 1016,90 1030,70 1044,40 1058,100 1072,75 1086,40 1100,85 1114,100 1128,40 1142,75 1156,90 1170,40 1184,100 1198,70 1212,50 1226,90 1240,65 1254,30 1268,75 1282,10 1298,-40"/>
<polyline stroke="#7ab648" points="890,-10 904,90 918,-5 932,60 946,85 960,45 974,70 988,100 1002,45 1016,75 1030,30 1044,90 1058,60 1072,100 1086,30 1100,70 1114,95 1128,85 1142,35 1156,75 1170,105 1184,75 1198,40 1212,70 1226,90 1240,55 1254,75 1268,40 1282,-20 1298,30"/>
<polyline stroke="#c0304a" points="890,30 904,100 918,75 932,50 946,30 960,90 974,60 988,95 1002,70 1016,45 1030,65 1044,95 1058,75 1072,40 1086,70 1100,50 1114,90 1128,100 1142,50 1156,85 1170,60 1184,90 1198,50 1212,95 1226,60 1240,85 1254,40 1268,70 1282,-10 1298,-85"/>
<polyline stroke="#1a7cc8" points="890,85 904,60 918,100 932,55 946,90 960,70 974,105 988,75 1002,95 1016,70 1030,90 1044,75 1058,105 1072,60 1086,100 1100,80 1114,105 1128,60 1142,85 1156,105 1170,70 1184,100 1198,80 1212,60 1226,105 1240,80 1254,60 1268,40 1282,5 1298,-30"/>
<polyline stroke="#eda030" points="890,60 904,90 918,50 932,95 946,75 960,95 974,70 988,90 1002,105 1016,80 1030,50 1044,85 1058,85 1072,100 1086,70 1100,90 1114,70 1128,105 1142,75 1156,40 1170,85 1184,60 1198,95 1212,75 1226,55 1240,95 1254,70 1268,55 1282,-30 1298,-50"/>
</g>
<g stroke-width="3"><path d="M905 -155H945" stroke="#1a9cd8"/><path d="M987 -155H1027" stroke="#a64ea8"/><path d="M1068 -155H1110" stroke="#c0304a"/><path d="M1152 -155H1192" stroke="#f5b53f"/><path d="M905 -136H945" stroke="#f0703a"/><path d="M987 -136H1027" stroke="#7ab648"/><path d="M1068 -136H1110" stroke="#1a9cd8"/><path d="M1152 -136H1192" stroke="#a64ea8"/><path d="M905 -117H945" stroke="#f5b53f"/><path d="M987 -117H1027" stroke="#29c5e6"/><path d="M1068 -117H1110" stroke="#f0703a"/><path d="M1152 -117H1192" stroke="#7ab648"/></g>
<g class="t" font-size="17"><text x="947" y="-150">C1</text><text x="1030" y="-150">C4</text><text x="1113" y="-150">C7</text><text x="1195" y="-150">C10</text><text x="947" y="-131">C2</text><text x="1030" y="-131">C5</text><text x="1113" y="-131">C8</text><text x="1195" y="-131">C11</text><text x="947" y="-112">C3</text><text x="1030" y="-112">C6</text><text x="1113" y="-112">C9</text><text x="1195" y="-112">C12</text></g>
<g class="t" font-size="20" text-anchor="end"><text x="880" y="-169">0.5</text><text x="880" y="-111">0.4</text><text x="880" y="-54">0.3</text><text x="880" y="4">0.2</text><text x="880" y="63">0.1</text><text x="880" y="121">0</text></g>
<g class="t" font-size="20" text-anchor="middle"><text x="885" y="140">0</text><text x="914" y="140">1</text><text x="942" y="140">2</text><text x="971" y="140">3</text><text x="1001" y="140">4</text><text x="1029" y="140">5</text><text x="1058" y="140">6</text><text x="1086" y="140">7</text><text x="1116" y="140">8</text><text x="1146" y="140">9</text><text x="1174" y="140">10</text><text x="1203" y="140">11</text><text x="1232" y="140">12</text><text x="1260" y="140">13</text><text x="1290" y="140">14</text><text x="1100" y="165" font-size="22">Year(a)</text><text transform="translate(843,-40) rotate(-90)" font-size="20">Aging Cost($)</text></g>

<!-- scatter -->
<rect x="303" y="827" width="377" height="293" class="ax" stroke-width="2"/>
<g fill="none" stroke="#444" stroke-width="2.5">
<path d="M305 1000C300 950 330 880 360 882C400 885 430 950 500 960C560 965 610 1000 608 1040C605 1085 560 1095 490 1085C420 1075 320 1050 305 1000Z"/>
<path d="M440 900C440 870 470 845 510 847C560 850 590 870 625 860C660 855 675 880 670 920C665 960 685 1020 640 1018C600 1015 590 970 530 950C480 935 440 925 440 900Z"/>
</g>
<g fill="#1a1a1a"><circle cx="451" cy="880" r="4.5"/><circle cx="476" cy="888" r="4.5"/><circle cx="525" cy="888" r="4.5"/><circle cx="557" cy="877" r="4.5"/><circle cx="592" cy="890" r="4.5"/><circle cx="605" cy="902" r="4.5"/><circle cx="630" cy="905" r="4.5"/><circle cx="648" cy="874" r="4.5"/><circle cx="353" cy="904" r="4.5" fill="#666"/><circle cx="382" cy="924" r="4.5"/><circle cx="424" cy="938" r="4.5"/><circle cx="465" cy="920" r="4.5"/><circle cx="507" cy="925" r="4.5"/><circle cx="533" cy="922" r="4.5"/><circle cx="558" cy="920" r="4.5"/><circle cx="565" cy="925" r="4.5"/><circle cx="580" cy="937" r="4.5"/><circle cx="605" cy="925" r="4.5"/><circle cx="615" cy="927" r="4.5"/><circle cx="617" cy="950" r="4.5"/><circle cx="630" cy="950" r="4.5"/><circle cx="653" cy="930" r="4.5" fill="#999"/><circle cx="658" cy="973" r="4.5"/><circle cx="668" cy="983" r="4.5" fill="#999"/><circle cx="600" cy="973" r="4.5"/><circle cx="575" cy="980" r="4.5"/><circle cx="493" cy="950" r="4.5"/><circle cx="468" cy="947" r="4.5" fill="#666"/><circle cx="505" cy="940" r="4.5"/><circle cx="456" cy="965" r="4.5" fill="#666"/><circle cx="422" cy="978" r="4.5" fill="#666"/><circle cx="375" cy="990" r="4.5" fill="#666"/><circle cx="495" cy="985" r="4.5"/><circle cx="520" cy="982" r="4.5"/><circle cx="547" cy="988" r="4.5"/><circle cx="573" cy="985" r="4.5"/><circle cx="610" cy="988" r="4.5"/><circle cx="622" cy="990" r="4.5"/><circle cx="635" cy="990" r="4.5"/><circle cx="637" cy="995" r="4.5"/><circle cx="655" cy="998" r="4.5" fill="#999"/><circle cx="575" cy="1005" r="4.5" fill="#888"/><circle cx="580" cy="1020" r="4.5"/><circle cx="495" cy="1015" r="4.5"/><circle cx="495" cy="1035" r="4.5"/><circle cx="424" cy="1032" r="4.5" fill="#444"/><circle cx="451" cy="1008" r="4.5" fill="#bbb"/><circle cx="550" cy="1040" r="4.5" fill="#444"/><circle cx="563" cy="1050" r="4.5" fill="#444"/><circle cx="493" cy="1076" r="4.5" fill="#444"/><circle cx="307" cy="997" r="4.5" fill="#888"/></g>
<text class="i" x="484" y="868" font-size="24" fill="#444">Z₁</text><text class="i" x="332" y="976" font-size="24" fill="#444">Z₂</text>
<g class="t" font-size="16" text-anchor="end"><text x="294" y="832">1</text><text x="294" y="892">0.8</text><text x="294" y="950">0.6</text><text x="294" y="1009">0.4</text><text x="294" y="1067">0.2</text><text x="294" y="1125">0</text></g>
<g class="t" font-size="16" text-anchor="middle"><text x="301" y="1143">0</text><text x="378" y="1143">0.2</text><text x="453" y="1143">0.4</text><text x="529" y="1143">0.6</text><text x="604" y="1143">0.8</text><text x="677" y="1143">1</text></g>
<text class="c" x="490" y="1163" font-size="17" text-anchor="middle">特征一</text>
<text class="c" transform="translate(263,975) rotate(-90)" font-size="17" text-anchor="middle">特征二</text>
<rect x="700" y="827" width="25" height="295" fill="url(#cb)" stroke="#444" stroke-width="1.5"/>
<g class="t" font-size="14"><text x="729" y="830">1500</text><text x="729" y="861">1400</text><text x="729" y="892">1300</text><text x="729" y="922">1200</text><text x="729" y="952">1100</text><text x="729" y="984">1000</text><text x="729" y="1013">900</text><text x="729" y="1045">800</text><text x="729" y="1073">700</text><text x="729" y="1105">600</text></g>
<text class="c" transform="translate(783,970) rotate(-90)" font-size="16" text-anchor="middle">循环数</text>

<!-- score chart -->
<rect x="873" y="808" width="372" height="314" class="ax" stroke-width="2"/>
<g stroke-width="3.4">
<polyline stroke="#7ab648" points="885,870 898,900 911,830 924,885 938,905 951,1005 978,990 991,820 1004,815 1017,880 1031,1030 1044,920 1057,830 1071,900 1084,850 1097,960 1124,1045 1137,820 1150,900 1164,940 1177,990 1190,1000 1204,910 1217,990 1232,840"/>
<polyline stroke="#a64ea8" points="885,960 898,815 911,900 924,850 938,910 951,960 964,930 978,870 991,905 1004,930 1017,850 1031,1000 1044,880 1057,905 1071,815 1084,815 1097,850 1110,900 1124,860 1137,870 1150,910 1164,830 1177,900 1190,880 1204,960 1217,850 1232,960"/>
<polyline stroke="#1a9cd8" points="885,970 898,905 911,880 924,925 938,890 951,905 964,925 978,890 991,930 1004,970 1017,900 1031,985 1044,895 1057,930 1071,870 1084,890 1097,905 1110,860 1124,950 1137,905 1150,885 1164,935 1177,870 1190,930 1204,1000 1217,1015 1232,1010"/>
<polyline stroke="#f5b53f" points="885,820 898,870 911,940 924,860 938,830 951,895 964,890 978,910 991,840 1004,895 1017,945 1031,905 1044,815 1057,880 1071,945 1084,910 1097,830 1110,880 1124,1000 1137,890 1150,845 1164,880 1177,920 1190,860 1204,915 1217,880 1232,945"/>
<polyline stroke="#29c5e6" points="885,815 898,885 911,815 924,815 938,940 951,890 964,870 978,950 991,885 1004,820 1017,925 1031,960 1044,880 1057,940 1071,905 1084,860 1097,945 1110,905 1124,985 1137,830 1150,920 1164,870 1177,950 1190,900 1204,985 1217,960 1232,900"/>
<polyline stroke="#c0304a" stroke-dasharray="8 4" points="885,850 898,830 911,910 924,870 938,885 951,950 964,985 978,820 991,870 1004,890 1017,980 1031,865 1044,915 1057,850 1071,880 1084,930 1097,880 1110,840 1124,900 1137,960 1150,870 1164,905 1177,860 1190,945 1204,880 1217,900 1232,815"/>
<polyline stroke="#f0703a" stroke-width="3.4" points="885,1058 898,1020 915,1005 925,1060 938,1045 950,1048 965,1020 985,1030 1005,1068 1018,1035 1033,1103 1045,1082 1058,1040 1072,1045 1085,1058 1098,940 1125,1042 1150,1075 1165,1055 1180,1072 1192,1065 1205,1075 1218,1030 1232,1098"/>
</g>
<g fill="#f0703a"><circle cx="885" cy="1058" r="4.5"/><circle cx="925" cy="1060" r="4.5"/><circle cx="965" cy="1020" r="4.5"/><circle cx="1005" cy="1068" r="4.5"/><circle cx="1045" cy="1082" r="4.5"/><circle cx="1085" cy="1058" r="4.5"/><circle cx="1165" cy="1055" r="4.5"/><circle cx="1205" cy="1075" r="4.5"/></g>
<g class="t" font-size="17" text-anchor="end"><text x="863" y="821">100</text><text x="863" y="881">80</text><text x="863" y="944">60</text><text x="863" y="1006">40</text><text x="863" y="1068">20</text><text x="863" y="1128">0</text></g>
<g class="t" font-size="17" text-anchor="middle"><text x="871" y="1145">0</text><text x="937" y="1145">5</text><text x="1002" y="1145">10</text><text x="1068" y="1145">15</text><text x="1134" y="1145">20</text><text x="1200" y="1145">25</text></g>
<text class="c" x="1055" y="1167" font-size="17" text-anchor="middle">循环数</text>
<text class="c" transform="translate(824,985) rotate(-90)" font-size="17" text-anchor="middle">综合得分</text>
<rect x="1285" y="808" width="73" height="350" fill="#fff" stroke="#555" stroke-width="2"/>
<g stroke-width="2.5">
<path d="M1290 818H1325" stroke="#1a9cd8"/><path d="M1290 836H1325" stroke="#f0703a"/><path d="M1290 855H1325" stroke="#f5b53f"/><path d="M1290 873H1325" stroke="#a64ea8"/><path d="M1290 891H1325" stroke="#7ab648"/><path d="M1290 910H1325" stroke="#29c5e6"/><path d="M1290 928H1325" stroke="#c0304a"/><path d="M1290 946H1325" stroke="#1a7cc8"/><path d="M1290 965H1325" stroke="#f0703a"/><path d="M1290 983H1325" stroke="#f5b53f"/><path d="M1290 1001H1325" stroke="#a64ea8"/><path d="M1290 1020H1325" stroke="#7ab648"/><path d="M1290 1038H1325" stroke="#29c5e6" stroke-dasharray="8 4"/><path d="M1290 1056H1325" stroke="#c0304a" stroke-dasharray="8 4"/><path d="M1290 1075H1325" stroke="#1a9cd8" stroke-dasharray="8 4"/><path d="M1290 1093H1325" stroke="#f5c0a0" stroke-dasharray="8 4"/><path d="M1290 1111H1325" stroke="#f5d060" stroke-dasharray="8 4"/><path d="M1290 1130H1325" stroke="#a64ea8" stroke-dasharray="8 4"/><path d="M1290 1148H1325" stroke="#7ab648" stroke-dasharray="8 4"/>
</g>
<g class="t" font-size="12"><text x="1335" y="822">1</text><text x="1335" y="840">2</text><text x="1335" y="859">3</text><text x="1335" y="877">4</text><text x="1335" y="895">5</text><text x="1335" y="914">6</text><text x="1335" y="932">7</text><text x="1335" y="950">8</text><text x="1335" y="969">9</text><text x="1335" y="987">10</text><text x="1335" y="1005">11</text><text x="1335" y="1024">12</text><text x="1335" y="1042">13</text><text x="1335" y="1060">14</text><text x="1335" y="1079">15</text><text x="1335" y="1097">16</text><text x="1335" y="1115">17</text><text x="1335" y="1134">18</text><text x="1335" y="1152">19</text></g>
</g>
</svg>
</body>
</html>
